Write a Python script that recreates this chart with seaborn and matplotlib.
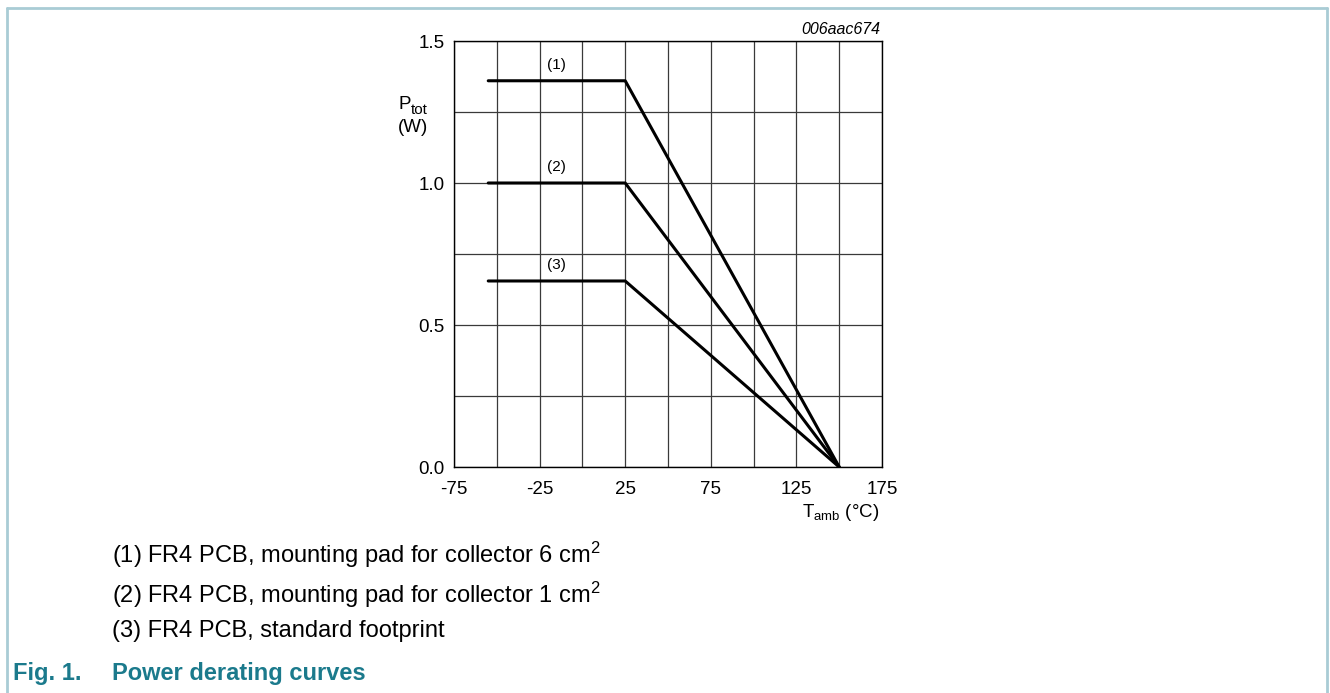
import numpy as np
import pandas as pd
import matplotlib
matplotlib.use('Agg')
import matplotlib.pyplot as plt
import seaborn as sns
from matplotlib.lines import Line2D

# derating curves: flat up to 25 degC, then linear down to 0 W at 150 degC
t_amb = [-55, 25, 150]
curves = {
    '(1)': [1.36, 1.36, 0.0],
    '(2)': [1.0, 1.0, 0.0],
    '(3)': [0.655, 0.655, 0.0],
}
label_x = -15
label_offset = 0.055
x_ticks = [-75, -25, 25, 75, 125, 175]
y_ticks = [0.0, 0.5, 1.0, 1.5]
notes = [
    r'(1) FR4 PCB, mounting pad for collector 6 cm$^{2}$',
    r'(2) FR4 PCB, mounting pad for collector 1 cm$^{2}$',
    '(3) FR4 PCB, standard footprint',
]

rows = []
for name, vals in curves.items():
    for t, p in zip(t_amb, vals):
        rows.append({'curve': name, 'T': t, 'P': p})
df = pd.DataFrame(rows)

sns.set_style('white')
plt.rcParams['font.family'] = ['Liberation Sans', 'DejaVu Sans']
plt.rcParams['mathtext.fontset'] = 'custom'
plt.rcParams['mathtext.rm'] = 'Liberation Sans'
plt.rcParams['mathtext.it'] = 'Liberation Sans:italic'
plt.rcParams['text.color'] = 'black'
plt.rcParams['xtick.color'] = 'black'
plt.rcParams['ytick.color'] = 'black'

W, H = 1330, 693
fig = plt.figure(figsize=(13.3, 6.93), dpi=100)
ax = fig.add_axes([454 / W, 1 - 467 / H, 428 / W, 426 / H])

sns.lineplot(data=df, x='T', y='P', units='curve', estimator=None,
             color='black', linewidth=2.2, ax=ax, legend=False, zorder=3)

ax.set_xlim(-75, 175)
ax.set_ylim(0, 1.5)
ax.set_xticks(x_ticks)
ax.set_yticks(y_ticks)
ax.set_xticklabels([str(v) for v in x_ticks])
ax.set_yticklabels([f'{v:.1f}' for v in y_ticks])
ax.set_xticks(np.arange(-75, 176, 25), minor=True)
ax.set_yticks(np.arange(0, 1.51, 0.25), minor=True)
ax.grid(which='both', color='#3a3a3a', linewidth=0.9)
ax.tick_params(which='both', length=0, labelsize=13.5, labelcolor='black')
ax.tick_params(axis='x', pad=10)
ax.tick_params(axis='y', pad=7)
for s in ax.spines.values():
    s.set_color('black')
    s.set_linewidth(1.0)
ax.set_xlabel('')
ax.set_ylabel('')

for name, vals in curves.items():
    ax.text(label_x, vals[0] + label_offset, name, ha='center', va='center',
            fontsize=11, zorder=4,
            bbox=dict(facecolor='white', edgecolor='none', pad=1.5))

fig.text(880 / W, 1 - 29 / H, '006aac674', ha='right', va='center',
         fontsize=11.5, style='italic')
# y axis label: P with subscript "tot", then unit below
fig.text(398 / W, 1 - 109 / H, 'P', ha='left', va='baseline', fontsize=13.5)
fig.text(411 / W, 1 - 114 / H, 'tot', ha='left', va='baseline', fontsize=11)
fig.text(413 / W, 1 - 132 / H, '(W)', ha='center', va='baseline', fontsize=13.5)
fig.text(879 / W, 1 - 517 / H, r'T$_{\mathrm{amb}}$ (°C)', ha='right', va='baseline', fontsize=13.5)

for note, ybase in zip(notes, [563, 603, 637]):
    fig.text(112 / W, 1 - ybase / H, note, ha='left', va='baseline', fontsize=17)

teal = '#1b7a8c'
fig.text(13 / W, 1 - 680 / H, 'Fig. 1.', ha='left', va='baseline', fontsize=17,
         fontweight='bold', color=teal)
fig.text(112 / W, 1 - 680 / H, 'Power derating curves', ha='left', va='baseline',
         fontsize=17, fontweight='bold', color=teal)

frame = '#a9ccd5'
fig.add_artist(Line2D([7 / W, 7 / W], [0, 1 - 8 / H], color=frame, lw=2, transform=fig.transFigure))
fig.add_artist(Line2D([1327 / W, 1327 / W], [0, 1 - 8 / H], color=frame, lw=2, transform=fig.transFigure))
fig.add_artist(Line2D([7 / W, 1327 / W], [1 - 8 / H, 1 - 8 / H], color=frame, lw=2, transform=fig.transFigure))

fig.savefig('out.png', dpi=100)
